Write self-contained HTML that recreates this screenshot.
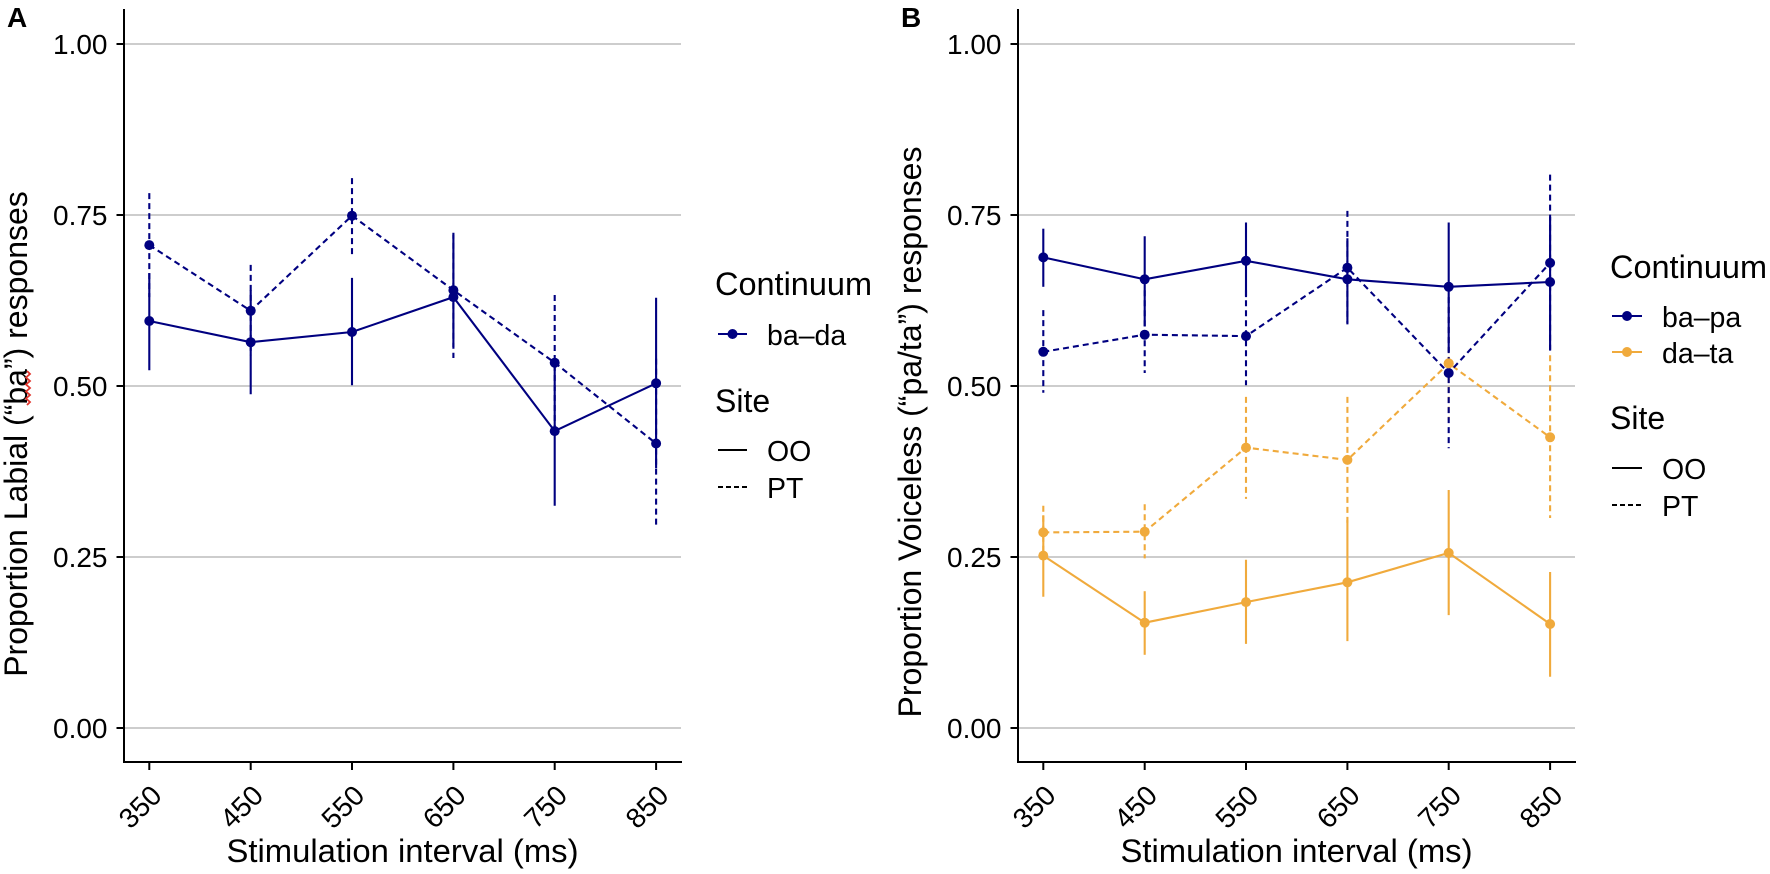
<!DOCTYPE html>
<html>
<head>
<meta charset="utf-8">
<style>
html,body{margin:0;padding:0;background:#fff;}
svg{display:block;}
text{font-family:"Liberation Sans",Arial,Helvetica,sans-serif;fill:#000;}
.tick{font-size:28px;}
.title{font-size:32px;}
.leg{font-size:28.5px;}
.tag{font-size:28px;font-weight:bold;}
.grid{stroke:#c6c6c6;stroke-width:1.8;}
.axis{stroke:#000;stroke-width:2;fill:none;}
.nv{stroke:#000080;stroke-width:2.1;fill:none;}
.or{stroke:#F0AA3C;stroke-width:2.1;fill:none;}
.d{stroke-dasharray:6 4;}
.pn{fill:#000080;}
.po{fill:#F0AA3C;}
</style>
</head>
<body>
<svg width="1770" height="874" viewBox="0 0 1770 874" xmlns="http://www.w3.org/2000/svg">
<rect width="1770" height="874" fill="#fff"/>

<!-- ================= PANEL A ================= -->
<text class="tag" x="7" y="27">A</text>
<g>
  <line class="grid" x1="124" y1="44" x2="681" y2="44"/>
  <line class="grid" x1="124" y1="215" x2="681" y2="215"/>
  <line class="grid" x1="124" y1="386" x2="681" y2="386"/>
  <line class="grid" x1="124" y1="557" x2="681" y2="557"/>
  <line class="grid" x1="124" y1="728" x2="681" y2="728"/>
</g>
<!-- data A: PT dashed -->
<g class="nv d">
  <polyline points="149.3,245.1 250.7,310.8 352,215.7 453.4,290.2 554.7,362.7 656.1,443.5"/>
  <line x1="149.3" y1="193.1" x2="149.3" y2="297.1"/>
  <line x1="250.7" y1="264.9" x2="250.7" y2="355.2"/>
  <line x1="352" y1="178.1" x2="352" y2="254.7"/>
  <line x1="453.4" y1="232.8" x2="453.4" y2="358"/>
  <line x1="554.7" y1="295" x2="554.7" y2="433.9"/>
  <line x1="656.1" y1="358.6" x2="656.1" y2="526.9"/>
</g>
<!-- data A: OO solid -->
<g class="nv">
  <polyline points="149.3,321 250.7,342.2 352,332 453.4,297.1 554.7,431.1 656.1,383.3"/>
  <line x1="149.3" y1="273.1" x2="149.3" y2="370.3"/>
  <line x1="250.7" y1="290.2" x2="250.7" y2="394.2"/>
  <line x1="352" y1="277.9" x2="352" y2="385.3"/>
  <line x1="453.4" y1="234.8" x2="453.4" y2="347"/>
  <line x1="554.7" y1="358.6" x2="554.7" y2="505.7"/>
  <line x1="656.1" y1="297.8" x2="656.1" y2="468.1"/>
</g>
<g class="pn">
  <circle cx="149.3" cy="245.1" r="5"/><circle cx="250.7" cy="310.8" r="5"/>
  <circle cx="352" cy="215.7" r="5"/><circle cx="453.4" cy="290.2" r="5"/>
  <circle cx="554.7" cy="362.7" r="5"/><circle cx="656.1" cy="443.5" r="5"/>
  <circle cx="149.3" cy="321" r="5"/><circle cx="250.7" cy="342.2" r="5"/>
  <circle cx="352" cy="332" r="5"/><circle cx="453.4" cy="297.1" r="5"/>
  <circle cx="554.7" cy="431.1" r="5"/><circle cx="656.1" cy="383.3" r="5"/>
</g>
<!-- axes A -->
<path class="axis" d="M124,9 V762 H682"/>
<g class="axis">
  <line x1="116.5" y1="44" x2="124" y2="44"/><line x1="116.5" y1="215" x2="124" y2="215"/>
  <line x1="116.5" y1="386" x2="124" y2="386"/><line x1="116.5" y1="557" x2="124" y2="557"/>
  <line x1="116.5" y1="728" x2="124" y2="728"/>
  <line x1="149.3" y1="762" x2="149.3" y2="770"/><line x1="250.7" y1="762" x2="250.7" y2="770"/>
  <line x1="352" y1="762" x2="352" y2="770"/><line x1="453.4" y1="762" x2="453.4" y2="770"/>
  <line x1="554.7" y1="762" x2="554.7" y2="770"/><line x1="656.1" y1="762" x2="656.1" y2="770"/>
</g>
<g class="tick" text-anchor="end">
  <text x="107.5" y="54">1.00</text>
  <text x="107.5" y="225">0.75</text>
  <text x="107.5" y="396">0.50</text>
  <text x="107.5" y="567">0.25</text>
  <text x="107.5" y="738">0.00</text>
</g>
<g class="tick" text-anchor="end">
  <text x="0" y="20" transform="translate(149.3,783) rotate(-45)">350</text>
  <text x="0" y="20" transform="translate(250.7,783) rotate(-45)">450</text>
  <text x="0" y="20" transform="translate(352,783) rotate(-45)">550</text>
  <text x="0" y="20" transform="translate(453.4,783) rotate(-45)">650</text>
  <text x="0" y="20" transform="translate(554.7,783) rotate(-45)">750</text>
  <text x="0" y="20" transform="translate(656.1,783) rotate(-45)">850</text>
</g>
<text class="title" x="402.5" y="862" text-anchor="middle" textLength="352" lengthAdjust="spacingAndGlyphs">Stimulation interval (ms)</text>
<text class="title" text-anchor="middle" transform="translate(27,434) rotate(-90)">Proportion Labial (“ba”) responses</text>
<path d="M27,405 l3,-3 l-4,-3.5 l4,-3.5 l-4,-3.5 l4,-3.5 l-4,-3.5 l4,-3.5 l-4,-3.5 l4,-3.5 l-3,-3" stroke="#e0332b" stroke-width="1.8" fill="none"/>

<!-- legend A -->
<text class="title" x="715" y="295" textLength="157" lengthAdjust="spacingAndGlyphs">Continuum</text>
<line class="nv" x1="718" y1="334" x2="747" y2="334"/>
<circle class="pn" cx="732.5" cy="334" r="5"/>
<text class="leg" x="767" y="345">ba–da</text>
<text class="title" x="715" y="412">Site</text>
<line x1="718" y1="450" x2="747" y2="450" stroke="#000" stroke-width="2"/>
<text class="leg" x="767" y="461">OO</text>
<line x1="718" y1="487" x2="747" y2="487" stroke="#000" stroke-width="2" stroke-dasharray="5 3"/>
<text class="leg" x="767" y="498">PT</text>

<!-- ================= PANEL B ================= -->
<text class="tag" x="901" y="27">B</text>
<g>
  <line class="grid" x1="1018" y1="44" x2="1575" y2="44"/>
  <line class="grid" x1="1018" y1="215" x2="1575" y2="215"/>
  <line class="grid" x1="1018" y1="386" x2="1575" y2="386"/>
  <line class="grid" x1="1018" y1="557" x2="1575" y2="557"/>
  <line class="grid" x1="1018" y1="728" x2="1575" y2="728"/>
</g>
<!-- da-ta OO -->
<g class="or">
  <polyline points="1043.3,555.6 1144.7,622.7 1246,602.1 1347.4,582.3 1448.7,552.9 1550.1,624"/>
  <line x1="1043.3" y1="515.3" x2="1043.3" y2="596.7"/>
  <line x1="1144.7" y1="591.2" x2="1144.7" y2="654.8"/>
  <line x1="1246" y1="559.7" x2="1246" y2="643.9"/>
  <line x1="1347.4" y1="520.1" x2="1347.4" y2="641.1"/>
  <line x1="1448.7" y1="490" x2="1448.7" y2="615.1"/>
  <line x1="1550.1" y1="572" x2="1550.1" y2="676.7"/>
</g>
<!-- da-ta PT -->
<g class="or d">
  <polyline points="1043.3,532.4 1144.7,531.7 1246,447.6 1347.4,459.9 1448.7,363.4 1550.1,437.3"/>
  <line x1="1043.3" y1="505.7" x2="1043.3" y2="557"/>
  <line x1="1144.7" y1="504.3" x2="1144.7" y2="558.4"/>
  <line x1="1246" y1="396.9" x2="1246" y2="498.9"/>
  <line x1="1347.4" y1="396.9" x2="1347.4" y2="522.8"/>
  <line x1="1448.7" y1="306.7" x2="1448.7" y2="420.2"/>
  <line x1="1550.1" y1="355.2" x2="1550.1" y2="518"/>
</g>
<g class="po">
  <circle cx="1043.3" cy="555.6" r="5"/><circle cx="1144.7" cy="622.7" r="5"/>
  <circle cx="1246" cy="602.1" r="5"/><circle cx="1347.4" cy="582.3" r="5"/>
  <circle cx="1448.7" cy="552.9" r="5"/><circle cx="1550.1" cy="624" r="5"/>
  <circle cx="1043.3" cy="532.4" r="5"/><circle cx="1144.7" cy="531.7" r="5"/>
  <circle cx="1246" cy="447.6" r="5"/><circle cx="1347.4" cy="459.9" r="5"/>
  <circle cx="1448.7" cy="363.4" r="5"/><circle cx="1550.1" cy="437.3" r="5"/>
</g>
<!-- ba-pa PT -->
<g class="nv d">
  <polyline points="1043.3,351.8 1144.7,334.7 1246,336.1 1347.4,267.7 1448.7,373 1550.1,262.9"/>
  <line x1="1043.3" y1="310.1" x2="1043.3" y2="392.8"/>
  <line x1="1144.7" y1="290.2" x2="1144.7" y2="373"/>
  <line x1="1246" y1="290.2" x2="1246" y2="385.3"/>
  <line x1="1347.4" y1="210.9" x2="1347.4" y2="324.4"/>
  <line x1="1448.7" y1="297.1" x2="1448.7" y2="448.2"/>
  <line x1="1550.1" y1="174.6" x2="1550.1" y2="351.8"/>
</g>
<!-- ba-pa OO -->
<g class="nv">
  <polyline points="1043.3,257.4 1144.7,279.3 1246,260.8 1347.4,279.3 1448.7,286.8 1550.1,282"/>
  <line x1="1043.3" y1="228.7" x2="1043.3" y2="286.8"/>
  <line x1="1144.7" y1="236.2" x2="1144.7" y2="326.5"/>
  <line x1="1246" y1="222.5" x2="1246" y2="297.1"/>
  <line x1="1347.4" y1="238.3" x2="1347.4" y2="323.1"/>
  <line x1="1448.7" y1="222.5" x2="1448.7" y2="351.8"/>
  <line x1="1550.1" y1="217" x2="1550.1" y2="349.7"/>
</g>
<g class="pn">
  <circle cx="1043.3" cy="351.8" r="5"/><circle cx="1144.7" cy="334.7" r="5"/>
  <circle cx="1246" cy="336.1" r="5"/><circle cx="1347.4" cy="267.7" r="5"/>
  <circle cx="1448.7" cy="373" r="5"/><circle cx="1550.1" cy="262.9" r="5"/>
  <circle cx="1043.3" cy="257.4" r="5"/><circle cx="1144.7" cy="279.3" r="5"/>
  <circle cx="1246" cy="260.8" r="5"/><circle cx="1347.4" cy="279.3" r="5"/>
  <circle cx="1448.7" cy="286.8" r="5"/><circle cx="1550.1" cy="282" r="5"/>
</g>
<circle class="po" cx="1448.7" cy="363.4" r="5"/>
<!-- axes B -->
<path class="axis" d="M1018,9 V762 H1576"/>
<g class="axis">
  <line x1="1010.5" y1="44" x2="1018" y2="44"/><line x1="1010.5" y1="215" x2="1018" y2="215"/>
  <line x1="1010.5" y1="386" x2="1018" y2="386"/><line x1="1010.5" y1="557" x2="1018" y2="557"/>
  <line x1="1010.5" y1="728" x2="1018" y2="728"/>
  <line x1="1043.3" y1="762" x2="1043.3" y2="770"/><line x1="1144.7" y1="762" x2="1144.7" y2="770"/>
  <line x1="1246" y1="762" x2="1246" y2="770"/><line x1="1347.4" y1="762" x2="1347.4" y2="770"/>
  <line x1="1448.7" y1="762" x2="1448.7" y2="770"/><line x1="1550.1" y1="762" x2="1550.1" y2="770"/>
</g>
<g class="tick" text-anchor="end">
  <text x="1001.5" y="54">1.00</text>
  <text x="1001.5" y="225">0.75</text>
  <text x="1001.5" y="396">0.50</text>
  <text x="1001.5" y="567">0.25</text>
  <text x="1001.5" y="738">0.00</text>
</g>
<g class="tick" text-anchor="end">
  <text x="0" y="20" transform="translate(1043.3,783) rotate(-45)">350</text>
  <text x="0" y="20" transform="translate(1144.7,783) rotate(-45)">450</text>
  <text x="0" y="20" transform="translate(1246,783) rotate(-45)">550</text>
  <text x="0" y="20" transform="translate(1347.4,783) rotate(-45)">650</text>
  <text x="0" y="20" transform="translate(1448.7,783) rotate(-45)">750</text>
  <text x="0" y="20" transform="translate(1550.1,783) rotate(-45)">850</text>
</g>
<text class="title" x="1296.5" y="862" text-anchor="middle" textLength="352" lengthAdjust="spacingAndGlyphs">Stimulation interval (ms)</text>
<text class="title" text-anchor="middle" transform="translate(921,432) rotate(-90)">Proportion Voiceless (“pa/ta”) responses</text>

<!-- legend B -->
<text class="title" x="1610" y="278" textLength="157" lengthAdjust="spacingAndGlyphs">Continuum</text>
<line class="nv" x1="1612" y1="316" x2="1642" y2="316"/>
<circle class="pn" cx="1627" cy="316" r="5"/>
<text class="leg" x="1662" y="327">ba–pa</text>
<line class="or" x1="1612" y1="352" x2="1642" y2="352"/>
<circle class="po" cx="1627" cy="352" r="5"/>
<text class="leg" x="1662" y="363">da–ta</text>
<text class="title" x="1610" y="429">Site</text>
<line x1="1612" y1="468" x2="1642" y2="468" stroke="#000" stroke-width="2"/>
<text class="leg" x="1662" y="479">OO</text>
<line x1="1612" y1="505" x2="1642" y2="505" stroke="#000" stroke-width="2" stroke-dasharray="5 3"/>
<text class="leg" x="1662" y="516">PT</text>
</svg>
</body>
</html>
